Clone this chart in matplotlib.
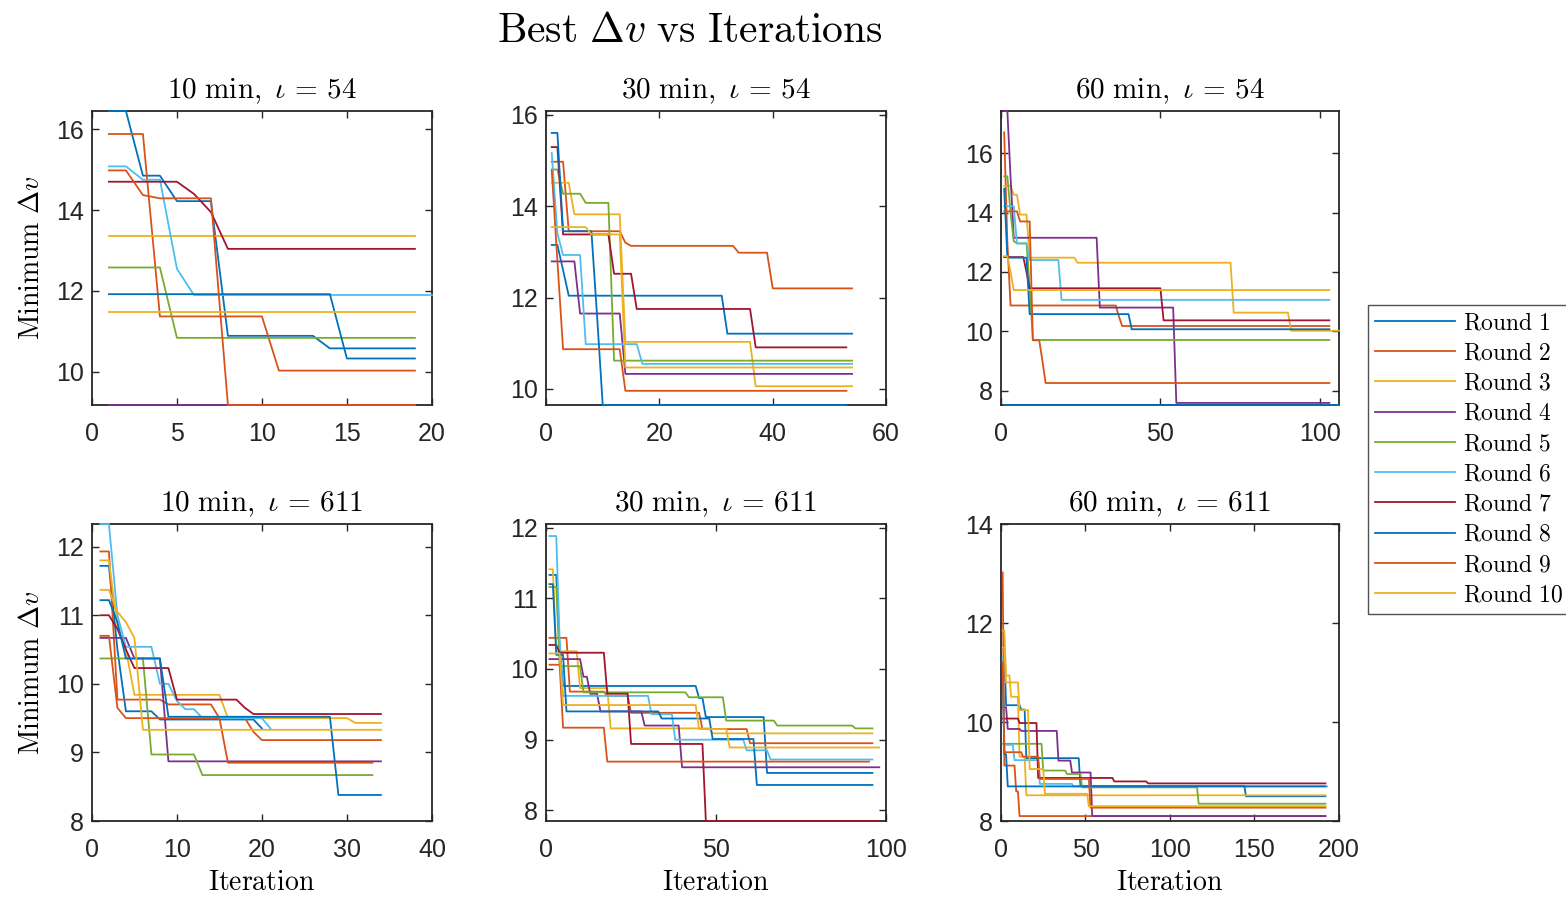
import numpy as np
import matplotlib
matplotlib.use("Agg")
import matplotlib.pyplot as plt

plt.rcParams["mathtext.fontset"] = "cm"
plt.rcParams["font.family"] = ["Liberation Sans", "DejaVu Sans"]

# MATLAB default line colours, cycled over the 10 rounds
colors = ["#0072BD", "#D95319", "#EDB120", "#7E2F8E", "#77AC30", "#4DBEEE", "#A2142F"]
rounds = [f"Round {i}" for i in range(1, 11)]
durations = [10, 30, 60]
iotas = [54, 611]

# best dv per round, as (value, number of iterations it holds), rounds 1..10

# 10 min, iota = 54
p1 = [
    [(16.45, 2), (14.85, 2), (14.22, 3), (10.89, 6), (10.58, 6)],
    [(15.88, 3), (11.37, 7), (10.03, 9)],
    [(13.36, 19)],
    [(9.18, 19)],
    [(12.58, 4), (10.84, 15)],
    [(15.08, 2), (14.75, 2), (12.55, 1), (11.9, 15)],
    [(14.7, 5), (14.4, 1), (13.95, 1), (13.04, 12)],
    [(11.92, 14), (10.33, 5)],
    [(14.98, 2), (14.37, 1), (14.29, 4), (9.18, 12)],
    [(11.48, 19)],
]

# 30 min, iota = 54
p2 = [
    [(13.15, 2), (12.6, 1), (12.04, 28), (11.21, 23)],
    [(14.97, 3), (13.45, 10), (13.2, 1), (13.13, 19), (12.98, 6), (12.2, 15)],
    [(14.51, 4), (13.82, 9), (11.03, 23), (10.06, 18)],
    [(12.79, 5), (11.65, 8), (10.33, 41)],
    [(14.8, 2), (14.27, 4), (14.07, 5), (10.62, 43)],
    [(15.16, 1), (13.4, 1), (12.93, 4), (10.98, 10), (10.55, 38)],
    [(15.29, 2), (13.38, 9), (12.52, 4), (11.75, 21), (10.91, 17)],
    [(15.6, 2), (13.45, 6), (11.6, 1), (9.65, 44)],
    [(14.78, 1), (12.8, 1), (10.87, 11), (9.96, 40)],
    [(13.54, 7), (13.38, 6), (10.47, 41)],
]

# 60 min, iota = 54
p3 = [
    [(7.52, 106)],
    [(16.7, 1), (13.0, 1), (10.87, 34), (10.5, 1), (10.18, 66)],
    [(14.9, 3), (14.6, 2), (13.93, 3), (12.48, 15), (12.31, 49), (10.63, 18), (10.02, 16)],
    [(17.42, 2), (15.2, 1), (13.15, 27), (10.8, 24), (7.59, 49)],
    [(15.22, 2), (14.0, 1), (13.04, 1), (12.96, 4), (11.5, 1), (9.71, 94)],
    [(14.21, 4), (12.96, 4), (12.4, 10), (11.06, 85)],
    [(12.5, 7), (12.0, 1), (11.45, 42), (10.37, 53)],
    [(14.8, 1), (12.48, 7), (10.58, 32), (10.07, 63)],
    [(14.04, 5), (13.7, 4), (9.7, 3), (9.0, 1), (8.26, 90)],
    [(12.53, 2), (12.0, 1), (11.39, 100)],
]

# 10 min, iota = 611
p4 = [
    [(11.72, 2), (10.5, 1), (9.6, 4), (9.48, 12), (9.35, 1)],
    [(11.93, 2), (9.77, 6), (9.7, 6), (9.5, 4), (9.3, 1), (9.18, 15)],
    [(11.8, 2), (10.83, 1), (10.5, 1), (9.84, 11), (9.5, 15), (9.43, 4)],
    [(10.67, 4), (10.37, 4), (8.87, 26)],
    [(10.37, 6), (8.97, 6), (8.67, 21)],
    [(12.33, 2), (11.0, 1), (10.54, 4), (10.0, 2), (9.75, 1), (9.63, 2), (9.5, 8), (9.35, 1)],
    [(11.0, 2), (10.8, 1), (10.5, 1), (10.23, 5), (9.77, 8), (9.65, 1), (9.56, 16)],
    [(11.22, 2), (10.9, 1), (10.37, 5), (9.52, 20), (8.38, 6)],
    [(10.7, 2), (9.65, 1), (9.5, 12), (8.85, 18)],
    [(11.37, 2), (11.05, 1), (10.9, 1), (10.67, 1), (9.33, 29)],
]

# 30 min, iota = 611
p5 = [
    [(11.33, 3), (10.3, 1), (9.76, 40), (9.59, 2), (9.32, 18), (8.53, 32)],
    [(10.44, 6), (9.68, 11), (9.62, 7), (9.38, 21), (9.15, 14), (8.95, 37)],
    [(11.41, 2), (10.25, 7), (9.73, 9), (9.16, 30), (9.09, 48)],
    [(10.14, 10), (9.89, 2), (9.65, 3), (9.4, 13), (9.2, 11), (8.61, 59)],
    [(11.16, 3), (10.04, 7), (9.67, 31), (9.6, 11), (9.27, 15), (9.2, 23), (9.16, 6)],
    [(11.88, 3), (10.4, 1), (9.62, 26), (9.36, 7), (9.0, 21), (8.85, 7), (8.72, 31)],
    [(10.34, 3), (10.23, 14), (9.65, 7), (8.94, 22), (7.85, 52)],
    [(11.2, 2), (10.2, 3), (9.4, 28), (9.3, 15), (9.01, 13), (8.36, 35)],
    [(10.06, 4), (9.17, 13), (8.69, 78)],
    [(10.22, 4), (9.49, 40), (9.15, 9), (8.89, 45)],
]

# 60 min, iota = 611
p6 = [
    [(11.49, 2), (10.34, 9), (10.25, 3), (9.27, 32), (8.71, 98), (8.5, 48)],
    [(13.02, 1), (9.12, 7), (8.6, 2), (8.1, 182)],
    [(11.85, 2), (10.94, 3), (10.51, 5), (9.3, 4), (8.52, 178)],
    [(10.3, 3), (9.86, 8), (9.82, 22), (9.22, 8), (8.98, 12), (8.1, 139)],
    [(9.56, 24), (9.02, 14), (8.95, 9), (8.68, 69), (8.35, 76)],
    [(11.3, 1), (9.54, 6), (9.23, 15), (8.75, 20), (8.7, 151)],
    [(10.07, 10), (9.98, 11), (8.87, 45), (8.8, 20), (8.76, 106)],
    [(11.0, 1), (9.35, 2), (8.7, 189)],
    [(11.2, 1), (9.39, 11), (9.3, 10), (8.85, 30), (8.27, 140)],
    [(11.5, 2), (10.8, 8), (10.24, 6), (9.05, 9), (8.55, 26), (8.3, 141)],
]

panels = [p1, p2, p3, p4, p5, p6]
xmax = [20, 60, 106, 40, 100, 200]
xticks = [np.arange(0, 21, 5), np.arange(0, 61, 20), [0, 50, 100],
          np.arange(0, 41, 10), [0, 50, 100], np.arange(0, 201, 50)]
ylims = [(9.18, 16.45), (9.65, 16.08), (7.52, 17.42),
         (8.0, 12.33), (7.85, 12.05), (8.0, 14.0)]
yticks = [np.arange(10, 17, 2), np.arange(10, 17, 2), np.arange(8, 17, 2),
          np.arange(8, 13, 1), np.arange(8, 13, 1), np.arange(8, 15, 2)]

fig = plt.figure(figsize=(15.66, 8.97), dpi=100)
lefts = [0.0587, 0.3487, 0.6392]
widths = [0.2171, 0.2171, 0.2158]
bottoms = [0.5485, 0.0847]
heights = [0.3278, 0.3311]

dark = "#262626"
lines = []
for k, data in enumerate(panels):
    r, c = divmod(k, 3)
    ax = fig.add_axes([lefts[c], bottoms[r], widths[c], heights[r]])
    for i, runs in enumerate(data):
        vals = np.repeat([v for v, n in runs], [n for v, n in runs])
        it = np.arange(1, len(vals) + 1)
        # MATLAB draws lines lying on the axes edge over the box
        ln, = ax.plot(it, vals, color=colors[i % 7], lw=1.3, label=rounds[i],
                      clip_on=False, zorder=3)
        if k == 0:
            lines.append(ln)
    ax.set_xlim(0, xmax[k])
    ax.set_ylim(*ylims[k])
    ax.set_xticks(xticks[k])
    ax.set_yticks(yticks[k])
    ax.tick_params(direction="in", top=True, right=True, length=5, width=1,
                   labelsize=18, colors=dark)
    ax.tick_params(axis="y", pad=6)
    ax.tick_params(axis="x", pad=12)
    for s in ax.spines.values():
        s.set_color(dark)
        s.set_linewidth(1.3)
    ax.set_title(r"$\mathrm{%d\ min},\ \iota\,=\,%d$" % (durations[c], iotas[r]),
                 fontsize=21, pad=9)
    if c == 0:
        ax.set_ylabel(r"$\mathrm{Minimum}\ \Delta v$", fontsize=20, labelpad=8)
    if r == 1:
        ax.set_xlabel(r"$\mathrm{Iteration}$", fontsize=20, labelpad=6)

fig.suptitle(r"$\mathrm{Best}\ \Delta v\ \mathrm{vs\ Iterations}$", x=0.4406, y=0.988,
             fontsize=30)

leg = fig.legend(lines, [r"$\mathrm{Round\ %d}$" % (i + 1) for i in range(10)],
                 loc="upper left", bbox_to_anchor=(0.8736, 0.66), fontsize=17,
                 handlelength=3.4, labelspacing=0.35, fancybox=False,
                 borderaxespad=0, borderpad=0.3, handletextpad=0.3)
leg.get_frame().set_edgecolor(dark)
leg.get_frame().set_linewidth(1.0)

fig.savefig("out.png", dpi=100)
